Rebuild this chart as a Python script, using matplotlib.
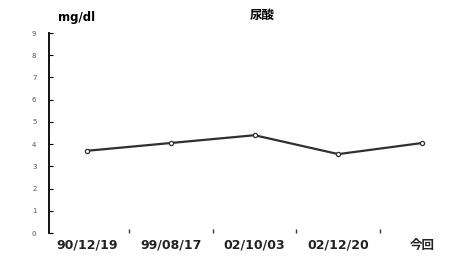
import matplotlib
matplotlib.use("Agg")
import matplotlib.pyplot as plt

plt.rcParams['font.family'] = ['DejaVu Sans', 'Noto Sans CJK JP']

# data
dates = ['90/12/19', '99/08/17', '02/10/03', '02/12/20', '今回']
uric_acid = [3.7, 4.05, 4.4, 3.55, 4.05]
yticks = list(range(0, 10))

fig = plt.figure(figsize=(4.64, 2.58), dpi=100, facecolor='white')
ax = fig.add_axes([49/464, 25/258, 1 - 49/464, 200/258])

x = list(range(len(dates)))
ax.plot(x, uric_acid, color='#303030', lw=1.6, marker='o', ms=3,
        mfc='white', mec='#303030', mew=0.9)

ax.set_xlim(-0.454, 4.5)
ax.set_ylim(0, 9)
ax.set_yticks(yticks)
ax.set_yticklabels([str(v) for v in yticks], fontsize=5, color='#555555')
ax.tick_params(axis='y', direction='in', length=3, width=0.8, pad=9)

ax.set_xticks(x)
ax.set_xticklabels(dates, fontsize=9, fontweight='bold', color='#222222')
ax.set_xticks([0.5, 1.5, 2.5, 3.5], minor=True)
ax.tick_params(axis='x', which='major', length=0, pad=4)
ax.tick_params(axis='x', which='minor', direction='in', length=3, width=1, color='#333333')

for s in ['top', 'right', 'bottom']:
    ax.spines[s].set_visible(False)
ax.spines['left'].set_linewidth(1.4)
ax.spines['left'].set_color('#111111')

fig.text(262/464, 1 - 15/258, '尿酸', ha='center', va='center', fontsize=9,
         fontweight='bold', family=['Noto Sans CJK JP', 'DejaVu Sans'])
fig.text(77/464, 1 - 17/258, 'mg/dl', ha='center', va='center', fontsize=8.5, fontweight='bold')

fig.savefig('out.png', dpi=100, facecolor='white')
